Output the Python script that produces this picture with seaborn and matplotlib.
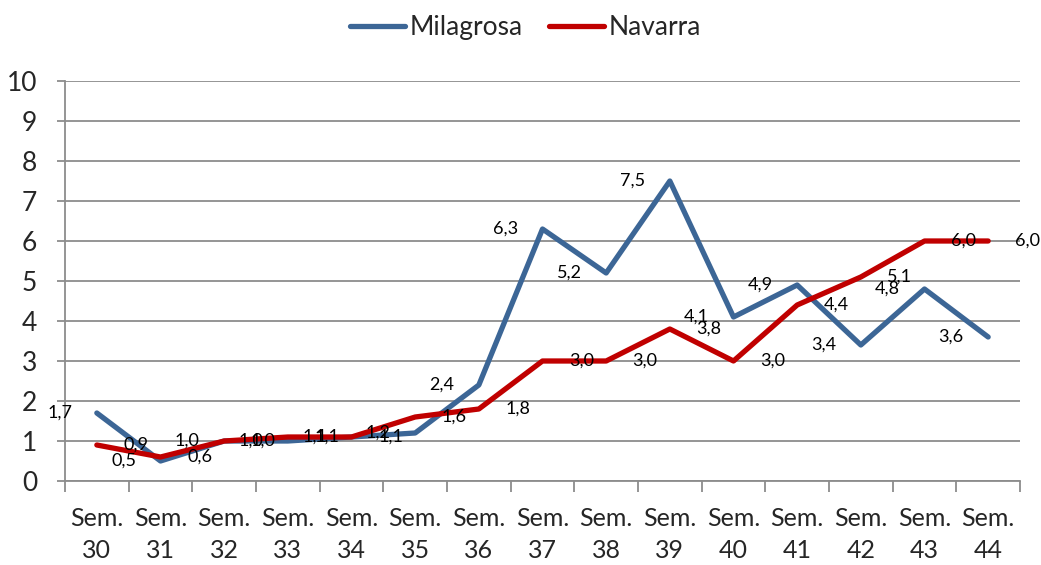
import matplotlib
matplotlib.use("Agg")
import matplotlib.pyplot as plt
import seaborn as sns
import pandas as pd
import numpy as np

weeks = ["30", "31", "32", "33", "34", "35", "36", "37", "38", "39", "40", "41", "42", "43", "44"]
milagrosa = [1.7, 0.5, 1.0, 1.0, 1.1, 1.2, 2.4, 6.3, 5.2, 7.5, 4.1, 4.9, 3.4, 4.8, 3.6]
navarra = [0.9, 0.6, 1.0, 1.1, 1.1, 1.6, 1.8, 3.0, 3.0, 3.8, 3.0, 4.4, 5.1, 6.0, 6.0]
series_names = ["Milagrosa", "Navarra"]
colors = {"Milagrosa": "#3C6696", "Navarra": "#C00000"}
label_dx = {"Milagrosa": -37, "Navarra": 39}

sns.set_theme(style="white")
plt.rcParams["font.family"] = ["Lato", "DejaVu Sans"]

labels_x = [f"Sem.\n{w}" for w in weeks]
df = pd.DataFrame({
    "x": list(range(len(weeks))) * 2,
    "value": milagrosa + navarra,
    "serie": [series_names[0]] * len(weeks) + [series_names[1]] * len(weeks),
})

fig = plt.figure(figsize=(10.41, 5.65), dpi=100)
ax = fig.add_axes([65 / 1041, 1 - 481 / 565, (1020 - 65) / 1041, (481 - 81) / 565])

sns.lineplot(data=df, x="x", y="value", hue="serie", palette=colors, linewidth=3.8,
             ax=ax, legend=True, solid_capstyle="round")

for name, vals in zip(series_names, [milagrosa, navarra]):
    for i, v in enumerate(vals):
        ax.annotate(f"{v:.1f}".replace(".", ","), (i, v), xytext=(label_dx[name], 0),
                    textcoords="offset pixels",
                    ha="center", va="center", fontsize=13, color="black")

ax.set_xlim(-0.5, len(weeks) - 0.5)
ax.set_ylim(0, 10)
ax.set_yticks(range(0, 11))
ax.yaxis.grid(True, color="#8C8C8C", linewidth=1.3)
ax.set_axisbelow(True)
ax.set_xticks(range(len(weeks)))
ax.set_xticklabels(labels_x, fontsize=18, linespacing=1.45)
ax.set_xticks(np.arange(-0.5, len(weeks), 1), minor=True)
ax.tick_params(axis="x", which="major", length=0, pad=19)
ax.tick_params(axis="x", which="minor", length=8, color="#8C8C8C", width=1.3, direction="out", bottom=True)
ax.tick_params(axis="y", length=6, color="#8C8C8C", width=1.3, labelsize=19, pad=14, left=True)
for s in ["top", "right"]:
    ax.spines[s].set_visible(False)
for s in ["left", "bottom"]:
    ax.spines[s].set_color("#8C8C8C")
    ax.spines[s].set_linewidth(1.3)
ax.set_xlabel("")
ax.set_ylabel("")

handles, lbls = ax.get_legend_handles_labels()
leg = ax.legend(handles, lbls, loc="upper center", bbox_to_anchor=(0.482, 1.225), ncol=2,
                frameon=False, fontsize=19, handlelength=2.1, handletextpad=0.15, columnspacing=1.0)
for h in leg.get_lines():
    h.set_linewidth(3.8)
    h.set_solid_capstyle("round")

fig.savefig("out.png", dpi=100)
